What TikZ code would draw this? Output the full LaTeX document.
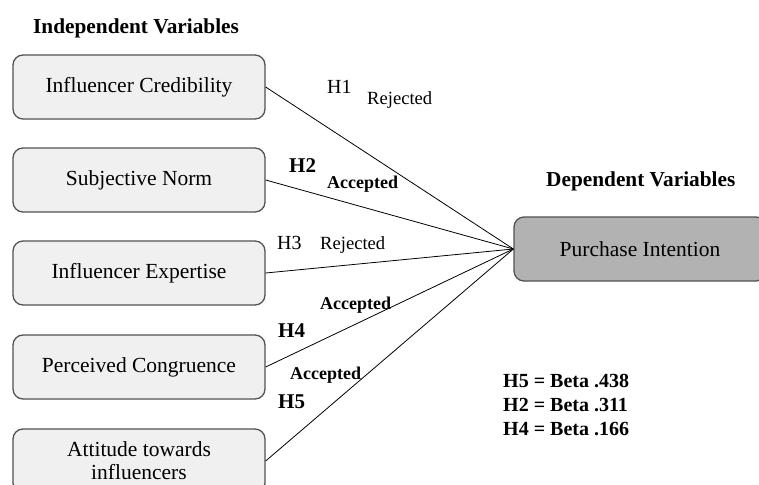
\documentclass[tikz,border=0pt]{standalone}
\usepackage{fontspec}
\setmainfont{Liberation Serif}
\begin{document}
\begin{tikzpicture}[x=1pt,y=-1pt,
  varbox/.style={draw=black!68, line width=1.3pt, rounded corners=10pt,
    fill=black!6, minimum width=252pt, minimum height=64pt, inner sep=0pt,
    align=center, font=\fontsize{21.5}{23}\selectfont},
  depbox/.style={varbox, fill=black!30},
  link/.style={draw=black, line width=0.8pt},
  hyp/.style={anchor=base west, inner sep=0pt, font=\fontsize{20}{24}\selectfont},
  hypb/.style={anchor=base west, inner sep=0pt, font=\fontsize{21}{24}\selectfont\bfseries},
  rej/.style={anchor=base west, inner sep=0pt, font=\fontsize{18.6}{22}\selectfont},
  acc/.style={anchor=base west, inner sep=0pt, font=\fontsize{18}{22}\selectfont\bfseries},
  heading/.style={anchor=base west, inner sep=0pt, font=\fontsize{21.3}{24}\selectfont\bfseries},
  coef/.style={anchor=base west, inner sep=0pt, font=\fontsize{20}{24}\selectfont\bfseries}
]
\useasboundingbox (0,0) rectangle (759,484);

% headings
\node[heading] (indep) at (33,34) {Independent Variables};
\node[heading] (dep) at (546,186) {Dependent Variables};

% independent variables
\node[varbox] (ic) at (139,87) {Influencer Credibility};
\node[varbox] (sn) at (139,180) {Subjective Norm};
\node[varbox] (ie) at (139,273) {Influencer Expertise};
\node[varbox] (pc) at (139,367) {Perceived Congruence};
\node[varbox] (at) at (139,461) {Attitude towards\\influencers};

% dependent variable
\node[depbox] (pi) at (640,249) {Purchase Intention};

% paths
\draw[link] (ic.east) -- (pi.west);
\draw[link] (sn.east) -- (pi.west);
\draw[link] (ie.east) -- (pi.west);
\draw[link] (pc.east) -- (pi.west);
\draw[link] (at.east) -- (pi.west);

% hypothesis labels
\node[hyp] (h1) at (327,94) {H1};
\node[rej] (r1) at (367,104) {Rejected};
\node[hypb] (h2) at (289,172) {H2};
\node[acc] (a2) at (327,188) {Accepted};
\node[hyp] (h3) at (277,249) {H3};
\node[rej] (r3) at (320,249) {Rejected};
\node[acc] (a4) at (320,309) {Accepted};
\node[hypb] (h4) at (278,337) {H4};
\node[acc] (a5) at (290,379) {Accepted};
\node[hypb] (h5) at (278,408) {H5};

% coefficients
\node[coef] (b5) at (503,387) {H5 = Beta .438};
\node[coef] (b2) at (503,411) {H2 = Beta .311};
\node[coef] (b4) at (503,435) {H4 = Beta .166};
\end{tikzpicture}
\end{document}
